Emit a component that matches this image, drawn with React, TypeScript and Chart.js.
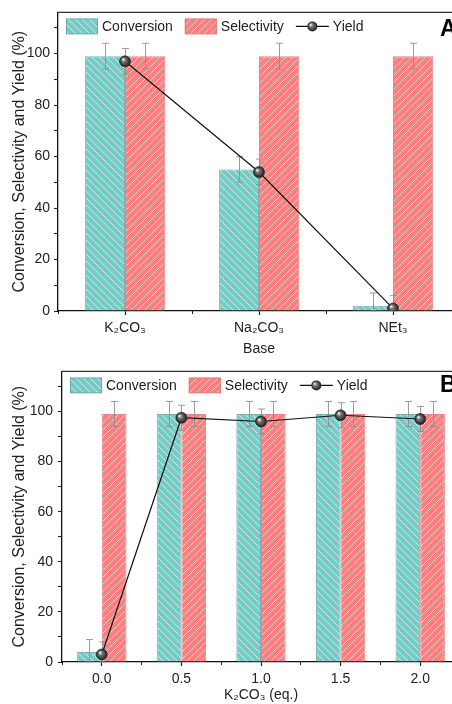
import React, { useEffect, useRef } from "react";
import { Chart, registerables } from "chart.js";

Chart.register(...registerables);

// ---------- DATA ----------
const seriesNames = ["Conversion", "Selectivity", "Yield"];
const yTitle = "Conversion, Selectivity and Yield (%)";
const yTickLabels = [0, 20, 40, 60, 80, 100];

// Panel A: effect of base
const baseLabels = ["K₂CO₃", "Na₂CO₃", "NEt₃"];
const conversionA = [99, 55, 2];
const conversionErrA = [5, 5, 5];
const selectivityA = [99, 99, 99];
const selectivityErrA = [5, 5, 5];
const yieldA = [97, 54, 1];
const yieldErrA = [5, 5, 5];

// Panel B: amount of K2CO3
const equivLabels = ["0.0", "0.5", "1.0", "1.5", "2.0"];
const conversionB = [4, 99, 99, 99, 99];
const conversionErrB = [5, 5, 5, 5, 5];
const selectivityB = [99, 99, 99, 99, 99];
const selectivityErrB = [5, 5, 5, 5, 5];
const yieldB = [3, 97.5, 96, 98.5, 97];
const yieldErrB = [5, 5, 5, 5, 5];

// ---------- STYLE HELPERS ----------
const FONT = '"Liberation Sans", Arial, Helvetica, sans-serif';
const TEXT = "#222";

function makePattern(color: string, dir: 1 | -1): CanvasPattern | string {
  const size = 7;
  const c = document.createElement("canvas");
  c.width = size;
  c.height = size;
  const g = c.getContext("2d");
  if (!g) return color;
  g.fillStyle = color;
  g.fillRect(0, 0, size, size);
  g.strokeStyle = "rgba(255,255,255,0.7)";
  g.lineWidth = 0.9;
  g.beginPath();
  if (dir === 1) {
    g.moveTo(-1, -1);
    g.lineTo(size + 1, size + 1);
    g.moveTo(-1, size - 1);
    g.lineTo(1, size + 1);
    g.moveTo(size - 1, -1);
    g.lineTo(size + 1, 1);
  } else {
    g.moveTo(-1, size + 1);
    g.lineTo(size + 1, -1);
    g.moveTo(-1, 1);
    g.lineTo(1, -1);
    g.moveTo(size - 1, size + 1);
    g.lineTo(size + 1, size - 1);
  }
  g.stroke();
  const p = g.createPattern(c, "repeat");
  return p || color;
}

function sphere(ctx: CanvasRenderingContext2D, x: number, y: number, r: number) {
  const g = ctx.createRadialGradient(x - r * 0.35, y - r * 0.35, r * 0.1, x, y, r);
  g.addColorStop(0, "#e6e6e6");
  g.addColorStop(0.3, "#777");
  g.addColorStop(1, "#1c1c1c");
  return g;
}

// ---------- PLUGINS ----------
const errorBarPlugin = {
  id: "errorBars",
  drawBars(chart: any, index: number) {
    const ds: any = chart.data.datasets[index];
    if (!ds.errors) return;
    const meta = chart.getDatasetMeta(index);
    const ys = chart.scales.y;
    const ctx = chart.ctx;
    ctx.save();
    ctx.strokeStyle = "rgba(140,140,140,0.85)";
    ctx.lineWidth = 1;
    meta.data.forEach((el: any, i: number) => {
      const v = ds.data[i];
      const e = ds.errors[i];
      if (v == null || e == null) return;
      const x = Math.round(el.x) + 0.5;
      const yt = ys.getPixelForValue(v + e);
      const yb = ys.getPixelForValue(Math.max(v - e, 0));
      ctx.beginPath();
      ctx.moveTo(x, yt);
      ctx.lineTo(x, yb);
      ctx.moveTo(x - 3.5, yt);
      ctx.lineTo(x + 3.5, yt);
      ctx.moveTo(x - 3.5, yb);
      ctx.lineTo(x + 3.5, yb);
      ctx.stroke();
    });
    ctx.restore();
  },
  afterDatasetDraw(chart: any, args: any) {
    if (args.meta.type === "bar") (errorBarPlugin as any).drawBars(chart, args.index);
  },
  beforeDatasetDraw(chart: any, args: any) {
    if (args.meta.type === "line") (errorBarPlugin as any).drawBars(chart, args.index);
  },
};

const framePlugin = {
  id: "frame",
  afterDraw(chart: any) {
    const { ctx, chartArea: a } = chart;
    ctx.save();
    ctx.strokeStyle = "#333";
    ctx.lineWidth = 1.2;
    ctx.beginPath();
    ctx.moveTo(a.left, a.top);
    ctx.lineTo(a.right, a.top);
    ctx.lineTo(a.right, a.bottom);
    ctx.stroke();
    ctx.restore();
  },
};

const insideLegend = {
  id: "insideLegend",
  afterDraw(chart: any, _args: any, opts: any) {
    const { ctx, chartArea: a } = chart;
    const cy = a.top + 14;
    ctx.save();
    ctx.font = `14px ${FONT}`;
    ctx.textBaseline = "middle";
    ctx.textAlign = "left";
    let x = a.left + 8;
    const datasets: any[] = chart.data.datasets;
    const bars = datasets.filter((d) => d.type === "bar");
    const lines = datasets.filter((d) => d.type === "line");
    for (const d of bars) {
      ctx.fillStyle = d.backgroundColor;
      ctx.fillRect(x, cy - 7.5, 32, 15);
      ctx.strokeStyle = d.borderColor;
      ctx.lineWidth = 1;
      ctx.strokeRect(x + 0.5, cy - 7.5, 31, 15);
      ctx.fillStyle = TEXT;
      ctx.fillText(d.label, x + 36, cy + 1);
      x += 36 + ctx.measureText(d.label).width + 12;
    }
    for (const d of lines) {
      ctx.strokeStyle = "#111";
      ctx.lineWidth = 1.3;
      ctx.beginPath();
      ctx.moveTo(x, cy);
      ctx.lineTo(x + 33, cy);
      ctx.stroke();
      ctx.beginPath();
      ctx.arc(x + 16.5, cy, 5, 0, Math.PI * 2);
      ctx.fillStyle = sphere(ctx, x + 16.5, cy, 5);
      ctx.fill();
      ctx.fillStyle = TEXT;
      ctx.fillText(d.label, x + 37, cy + 1);
    }
    if (opts && opts.panel) {
      ctx.font = `bold 23px ${FONT}`;
      ctx.fillStyle = "#000";
      ctx.fillText(opts.panel, a.right - 20, cy + opts.labelDy);
    }
    ctx.restore();
  },
};

// ---------- CONFIG ----------
type Spec = {
  labels: string[];
  conv: number[];
  convErr: number[];
  sel: number[];
  selErr: number[];
  yld: number[];
  yldErr: number[];
  xTitle: string;
  panel: string;
  labelDy: number;
  yAxisWidth: number;
  xAxisHeight: number;
  padTop: number;
  yTickPad: number;
  cat: number;
};

function buildConfig(spec: Spec): any {
  const convPattern = makePattern("#78cbc4", 1);
  const selPattern = makePattern("#fd8080", -1);
  const tickFont = { family: FONT, size: 14 };
  return {
    type: "bar",
    data: {
      labels: spec.labels,
      datasets: [
        {
          type: "line",
          label: seriesNames[2],
          data: spec.yld,
          errors: spec.yldErr,
          order: 0,
          borderColor: "#111",
          borderWidth: 1.2,
          tension: 0,
          fill: false,
          pointRadius: 5.5,
          pointHoverRadius: 5.5,
          pointBorderColor: "#222",
          pointBorderWidth: 0.6,
          pointBackgroundColor: (c: any) => {
            const chart = c.chart;
            if (c.type !== "data" || !chart.scales.x || !chart.scales.y) return "#444";
            const px = chart.scales.x.getPixelForValue(c.dataIndex);
            const py = chart.scales.y.getPixelForValue(c.raw);
            if (!isFinite(px) || !isFinite(py)) return "#444";
            return sphere(chart.ctx, px, py, 5.5);
          },
        },
        {
          type: "bar",
          label: seriesNames[0],
          data: spec.conv,
          errors: spec.convErr,
          order: 1,
          backgroundColor: convPattern,
          borderColor: "rgba(95,165,160,0.85)",
          borderWidth: 1,
          categoryPercentage: spec.cat,
          barPercentage: 1,
        },
        {
          type: "bar",
          label: seriesNames[1],
          data: spec.sel,
          errors: spec.selErr,
          order: 1,
          backgroundColor: selPattern,
          borderColor: "rgba(225,112,112,0.85)",
          borderWidth: 1,
          categoryPercentage: spec.cat,
          barPercentage: 1,
        },
      ],
    },
    options: {
      responsive: false,
      animation: false,
      devicePixelRatio: 1,
      layout: { padding: { top: spec.padTop, right: 10, left: 0, bottom: 0 } },
      plugins: {
        legend: { display: false },
        tooltip: { enabled: false },
        insideLegend: { panel: spec.panel, labelDy: spec.labelDy },
      },
      scales: {
        x: {
          type: "category",
          offset: true,
          grid: { offset: false, drawOnChartArea: false, tickLength: 4, color: "#222", tickWidth: 1.2 },
          border: { color: "#111", width: 1.3 },
          ticks: { font: tickFont, color: TEXT, padding: 5, maxRotation: 0, autoSkip: false },
          title: {
            display: true,
            text: spec.xTitle,
            font: { family: FONT, size: 14 },
            color: TEXT,
            padding: { top: 0, bottom: 0 },
          },
          afterFit: (s: any) => {
            s.height = spec.xAxisHeight;
          },
        },
        x2: {
          type: "category",
          position: { y: 0 },
          offset: true,
          grid: { offset: true, drawOnChartArea: false, tickLength: 3, color: "#222", tickWidth: 1 },
          border: { display: false },
          ticks: { display: false },
        },
        y: {
          type: "linear",
          min: 0,
          max: 116,
          grid: { drawOnChartArea: false, tickLength: 4, color: "#222", tickWidth: 1.1 },
          border: { color: "#111", width: 1.3 },
          ticks: {
            stepSize: 10,
            includeBounds: false,
            font: tickFont,
            color: TEXT,
            padding: spec.yTickPad,
            callback: (v: number) => (yTickLabels.includes(v) ? String(v) : ""),
          },
          title: {
            display: true,
            text: yTitle,
            font: { family: FONT, size: 16 },
            color: TEXT,
            padding: { top: 10, bottom: 0 },
          },
          afterFit: (s: any) => {
            s.width = spec.yAxisWidth;
          },
        },
      },
    },
    plugins: [errorBarPlugin, insideLegend, framePlugin],
  };
}

const specA: Spec = {
  labels: baseLabels,
  conv: conversionA,
  convErr: conversionErrA,
  sel: selectivityA,
  selErr: selectivityErrA,
  yld: yieldA,
  yldErr: yieldErrA,
  xTitle: "Base",
  panel: "A",
  labelDy: 3,
  yAxisWidth: 58,
  xAxisHeight: 47,
  padTop: 12,
  yTickPad: 4,
  cat: 0.6,
};

const specB: Spec = {
  labels: equivLabels,
  conv: conversionB,
  convErr: conversionErrB,
  sel: selectivityB,
  selErr: selectivityErrB,
  yld: yieldB,
  yldErr: yieldErrB,
  xTitle: "K₂CO₃ (eq.)",
  panel: "B",
  labelDy: 0,
  yAxisWidth: 62,
  xAxisHeight: 42,
  padTop: 9,
  yTickPad: 5,
  cat: 0.62,
};

function Panel({ spec, top, width, height }: { spec: Spec; top: number; width: number; height: number }) {
  const ref = useRef<HTMLCanvasElement>(null);
  useEffect(() => {
    if (!ref.current) return;
    const chart = new Chart(ref.current, buildConfig(spec));
    return () => chart.destroy();
  }, [spec]);
  return (
    <canvas
      ref={ref}
      width={width}
      height={height}
      style={{ position: "absolute", left: 0, top, width, height, display: "block" }}
    />
  );
}

export default function App() {
  return (
    <div
      style={{
        position: "fixed",
        left: 0,
        top: 0,
        width: 452,
        height: 704,
        overflow: "hidden",
        background: "#fff",
      }}
    >
      <Panel spec={specA} top={0} width={470} height={358} />
      <Panel spec={specB} top={358} width={470} height={346} />
    </div>
  );
}
